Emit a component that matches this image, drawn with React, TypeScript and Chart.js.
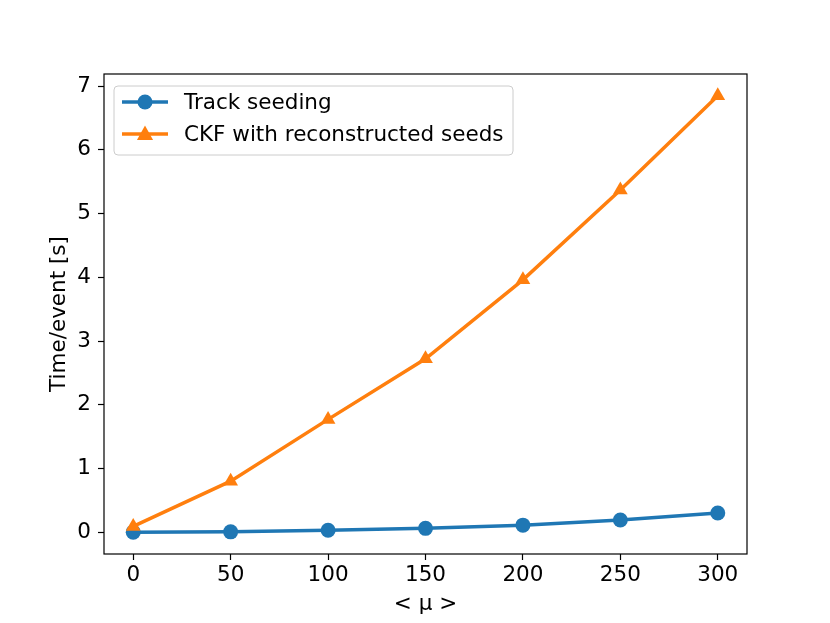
import { useEffect, useRef } from 'react';
import { Chart, registerables } from 'chart.js';

Chart.register(...registerables);

// < mu > values
const mu = [0, 50, 100, 150, 200, 250, 300];
const seedingTime = [0.0, 0.005, 0.03, 0.06, 0.11, 0.19, 0.3];
const ckfTime = [0.09, 0.8, 1.77, 2.72, 3.96, 5.37, 6.85];
const seriesNames = ['Track seeding', 'CKF with reconstructed seeds'];
const seriesColors = ['#1f77b4', '#ff7f0e'];
const markerStyles = ['circle', 'triangle'] as const;

const FONT = 'DejaVu Sans';
const FS = 21.5;

// full box round the plot area, like matplotlib's spines
const framePlugin = {
  id: 'frame',
  afterDatasetsDraw(chart: any) {
    const { ctx, chartArea: a } = chart;
    ctx.save();
    ctx.strokeStyle = '#000';
    ctx.lineWidth = 1.2;
    ctx.strokeRect(a.left, a.top, a.right - a.left, a.bottom - a.top);
    ctx.restore();
  },
};

// legend box inside the axes, upper left
const legendPlugin = {
  id: 'boxLegend',
  afterDraw(chart: any) {
    const { ctx } = chart;
    const x = 114;
    const y = 86;
    const w = 399;
    const h = 69;
    const r = 4;
    ctx.save();
    ctx.beginPath();
    ctx.roundRect(x, y, w, h, r);
    ctx.fillStyle = 'rgba(255,255,255,0.8)';
    ctx.fill();
    ctx.strokeStyle = '#cccccc';
    ctx.lineWidth = 1;
    ctx.stroke();

    chart.data.datasets.forEach((ds: any, i: number) => {
      const cy = 102 + i * 32;
      ctx.strokeStyle = ds.borderColor;
      ctx.lineWidth = ds.borderWidth;
      ctx.beginPath();
      ctx.moveTo(122, cy);
      ctx.lineTo(168, cy);
      ctx.stroke();
      ctx.fillStyle = ds.pointBackgroundColor;
      ctx.beginPath();
      if (ds.pointStyle === 'triangle') {
        const s = ds.pointRadius;
        ctx.moveTo(145, cy - s);
        ctx.lineTo(145 + s * 0.95, cy + s * 0.7);
        ctx.lineTo(145 - s * 0.95, cy + s * 0.7);
        ctx.closePath();
      } else {
        ctx.arc(145, cy, ds.pointRadius, 0, Math.PI * 2);
      }
      ctx.fill();
      ctx.fillStyle = '#000';
      ctx.font = `${FS}px "${FONT}"`;
      ctx.textBaseline = 'middle';
      ctx.textAlign = 'left';
      ctx.fillText(ds.label, 184, cy + 1);
    });
    ctx.restore();
  },
};

const App: React.FC = () => {
  const chartRef = useRef<HTMLCanvasElement | null>(null);
  const chartInstance = useRef<Chart | null>(null);

  useEffect(() => {
    document.body.style.margin = '0';
    if (!chartRef.current) return;
    if (chartInstance.current) chartInstance.current.destroy();

    const series = [seedingTime, ckfTime];

    chartInstance.current = new Chart(chartRef.current, {
      type: 'line',
      data: {
        datasets: series.map((vals, i) => ({
          label: seriesNames[i],
          data: mu.map((m, j) => ({ x: m, y: vals[j] })),
          borderColor: seriesColors[i],
          backgroundColor: seriesColors[i],
          pointBackgroundColor: seriesColors[i],
          pointBorderColor: seriesColors[i],
          pointBorderWidth: 0,
          pointStyle: markerStyles[i],
          pointRadius: i === 0 ? 7.5 : 8.5,
          borderWidth: 3.5,
          tension: 0,
          fill: false,
          order: i === 0 ? 1 : 0,
        })),
      },
      plugins: [framePlugin, legendPlugin],
      options: {
        animation: false,
        responsive: false,
        maintainAspectRatio: false,
        layout: { padding: { left: 0, right: 83, top: 74, bottom: 0 } },
        plugins: {
          legend: { display: false },
          tooltip: { enabled: false },
        },
        scales: {
          x: {
            type: 'linear',
            min: -15,
            max: 315,
            afterFit: (s: any) => {
              s.height = 69;
            },
            border: { display: false },
            grid: {
              drawOnChartArea: false,
              drawTicks: true,
              tickLength: 6,
              tickWidth: 1.2,
              tickColor: '#000',
            },
            ticks: {
              stepSize: 50,
              includeBounds: false,
              maxRotation: 0,
              padding: 3,
              color: '#000',
              font: { family: FONT, size: FS },
            },
            title: {
              display: true,
              text: '< μ >',
              color: '#000',
              font: { family: FONT, size: FS },
              padding: { top: 0, bottom: 6 },
            },
          },
          y: {
            min: -0.3425,
            max: 7.19,
            afterFit: (s: any) => {
              s.width = 104;
            },
            border: { display: false },
            grid: {
              drawOnChartArea: false,
              drawTicks: true,
              tickLength: 6,
              tickWidth: 1.2,
              tickColor: '#000',
            },
            ticks: {
              stepSize: 1,
              includeBounds: false,
              padding: 7,
              color: '#000',
              font: { family: FONT, size: FS },
            },
            title: {
              display: true,
              text: 'Time/event [s]',
              color: '#000',
              font: { family: FONT, size: FS },
              padding: { top: 47, bottom: 0 },
            },
          },
        },
      },
    });
    return () => {
      chartInstance.current?.destroy();
    };
  }, []);

  return (
    <div style={{ width: 830, height: 623, background: '#fff' }}>
      <canvas ref={chartRef} width={830} height={623} />
    </div>
  );
};

export default App;
